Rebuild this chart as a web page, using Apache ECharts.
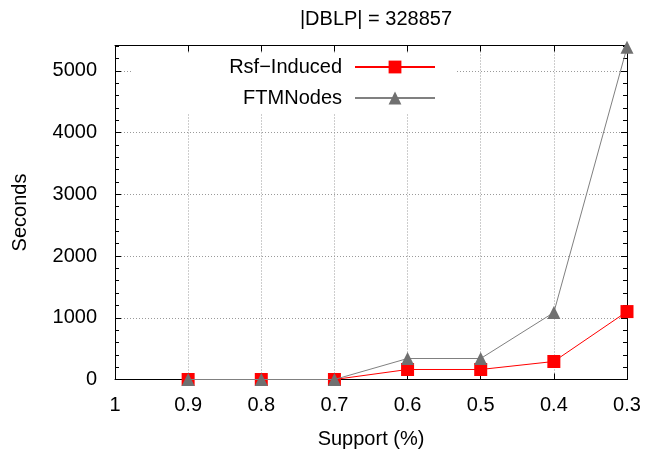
<!DOCTYPE html>
<html><head><meta charset="utf-8">
<script src="https://cdn.jsdelivr.net/npm/echarts@6/dist/echarts.min.js"></script>
<style>html,body{margin:0;padding:0;background:#fff}#c{width:649px;height:457px}</style>
</head><body><div id="c"></div>
<script>
const categories = ['1', '0.9', '0.8', '0.7', '0.6', '0.5', '0.4', '0.3'];
const rsfInduced = ['-', 0, 0, 0, 162, 162, 292, 1100];
const ftmNodes = ['-', 0, 0, 0, 340, 340, 1085, 5380];
const yTickLabels = [0, 1000, 2000, 3000, 4000, 5000];
const titleText = '|DBLP| = 328857';
const seriesNames = ['Rsf\u2212Induced', 'FTMNodes'];

const FONT = "'Liberation Sans', Arial, sans-serif";
const FS = 20;
const Y_MAX = 5410;

const chart = echarts.init(document.getElementById('c'), null, {renderer: 'canvas'});
const gridLine = {show: true, lineStyle: {color: '#9a9a9a', type: [1, 2], width: 1}};
const axisLine = {show: true, onZero: false, lineStyle: {color: '#000', width: 1}};

chart.setOption({
  animation: false,
  backgroundColor: '#fff',
  textStyle: {fontFamily: FONT},
  title: {
    text: titleText, left: 371, top: 4, textAlign: 'center',
    textStyle: {fontFamily: FONT, fontSize: FS, fontWeight: 'normal', color: '#000'}
  },
  grid: {left: 115, right: 22, top: 45.5, bottom: 77.5, containLabel: false},
  legend: [
    {data: [seriesNames[0]], right: 213, top: 57, padding: 0, align: 'right',
     itemWidth: 80, itemHeight: 16, selectedMode: false,
     textStyle: {fontFamily: FONT, fontSize: FS, color: '#000', padding: [0, 8, 0, 0]}},
    {data: [seriesNames[1]], right: 213, top: 88, padding: 0, align: 'right',
     itemWidth: 80, itemHeight: 16, selectedMode: false,
     textStyle: {fontFamily: FONT, fontSize: FS, color: '#000', padding: [0, 8, 0, 0]}}
  ],
  graphic: [{
    type: 'rect', z: 1, silent: true,
    shape: {x: 133, y: 54, width: 322, height: 59},
    style: {fill: '#fff'}
  }],
  xAxis: [{
    type: 'category', data: categories, boundaryGap: false, position: 'bottom',
    name: 'Support (%)', nameLocation: 'middle', nameGap: 50,
    nameTextStyle: {fontFamily: FONT, fontSize: FS, color: '#000'},
    axisLine: axisLine,
    axisTick: {show: true, inside: true, length: 6, alignWithLabel: true, lineStyle: {color: '#000'}},
    axisLabel: {fontFamily: FONT, fontSize: FS, color: '#000', margin: 16, interval: 0},
    splitLine: gridLine
  }, {
    type: 'category', data: categories, boundaryGap: false, position: 'top',
    axisLine: axisLine,
    axisTick: {show: true, inside: true, length: 6, alignWithLabel: true, lineStyle: {color: '#000'}},
    axisLabel: {show: false}, splitLine: {show: false}
  }],
  yAxis: [{
    type: 'value', min: 0, max: Y_MAX, interval: 1000, position: 'left',
    name: 'Seconds', nameLocation: 'middle', nameGap: 85, nameRotate: 90,
    nameTextStyle: {fontFamily: FONT, fontSize: FS, color: '#000'},
    axisLine: axisLine,
    axisTick: {show: true, inside: true, length: 6, lineStyle: {color: '#000'}},
    minorTick: {show: true, splitNumber: 5, length: 4, lineStyle: {color: '#000'}},
    axisLabel: {fontFamily: FONT, fontSize: FS, color: '#000', margin: 18, showMaxLabel: false,
      formatter: v => yTickLabels.indexOf(v) >= 0 ? String(v) : ''},
    splitLine: gridLine
  }, {
    type: 'value', min: 0, max: Y_MAX, interval: 1000, position: 'right',
    axisLine: axisLine,
    axisTick: {show: true, inside: true, length: 6, lineStyle: {color: '#000'}},
    minorTick: {show: true, splitNumber: 5, length: 4, lineStyle: {color: '#000'}},
    axisLabel: {show: false}, splitLine: {show: false}
  }],
  series: [{
    name: seriesNames[0], type: 'line', data: rsfInduced, xAxisIndex: 0, yAxisIndex: 0,
    symbol: 'rect', symbolSize: 13, z: 3,
    lineStyle: {color: '#ff0000', width: 1}, itemStyle: {color: '#ff0000'}
  }, {
    name: seriesNames[1], type: 'line', data: ftmNodes, xAxisIndex: 0, yAxisIndex: 0,
    symbol: 'triangle', symbolSize: 13, z: 4,
    lineStyle: {color: '#808080', width: 1}, itemStyle: {color: '#707070'}
  }]
});
</script></body></html>
